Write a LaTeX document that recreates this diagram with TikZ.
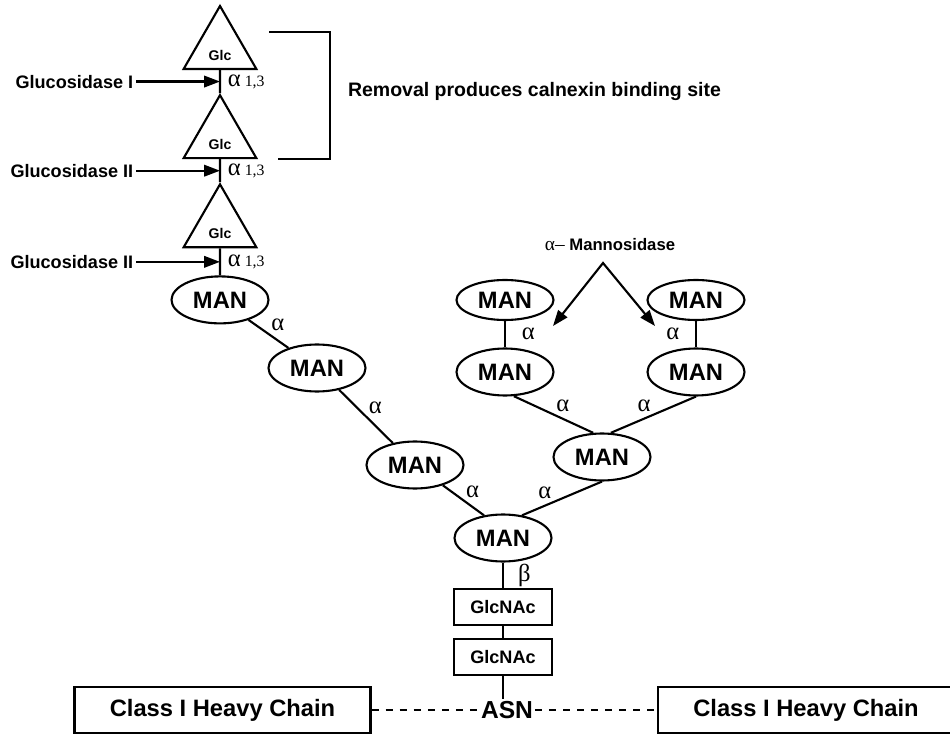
\documentclass[tikz,border=0pt]{standalone}
\usepackage{fontspec}
\newfontfamily\hv{Liberation Sans}
\newfontfamily\tm{Liberation Serif}
\usetikzlibrary{arrows.meta, positioning, shapes, calc}

\tikzset{
    glc/.style={regular polygon, regular polygon sides=3, draw, minimum size=1.68cm, inner sep=0pt, text height=0.5cm, font=\hv\bfseries\fontsize{8}{9}\selectfont},
    man/.style={ellipse, draw, minimum width=1.94cm, minimum height=0.94cm, inner sep=0pt, font=\hv\bfseries\fontsize{13.5}{15}\selectfont},
    mantop/.style={man, minimum height=0.8cm},
    nac/.style={rectangle, draw, minimum width=1.96cm, minimum height=0.72cm, inner sep=0pt, font=\hv\bfseries\fontsize{10.3}{12}\selectfont},
    hchain/.style={rectangle, draw, minimum width=5.92cm, minimum height=0.92cm, inner sep=0pt, font=\hv\bfseries\fontsize{13.5}{16}\selectfont},
    enz/.style={inner sep=1pt, font=\hv\bfseries\fontsize{10.3}{12}\selectfont},
    lnk/.style={inner sep=1pt, font=\tm\fontsize{14}{16}\selectfont},
    cut/.style={-{Triangle[length=9pt, width=6.5pt]}, line width=1.2pt},
}

\begin{document}
\begin{tikzpicture}[x=0.02cm, y=-0.02cm, line width=1.2pt]
    \useasboundingbox (0,0) rectangle (950,736);

    % glucose cap
    \node (t1) [glc] at (220,48) {Glc};
    \node (t2) [glc, below=0.46cm of t1] {Glc};
    \node (t3) [glc, below=0.46cm of t2] {Glc};
    \node (m1) [man, below=0.54cm of t3] {MAN};

    \draw (t1) -- (t2);
    \draw (t2) -- (t3);
    \draw (t3) -- (m1);

    \coordinate (b1) at ($(t1.south)!0.5!(t2.north)$);
    \coordinate (b2) at ($(t2.south)!0.5!(t3.north)$);
    \coordinate (b3) at ($(t3.south)!0.5!(m1.north)$);

    \node (g1) [enz, left=1.68cm of b1] {Glucosidase I};
    \node (g2) [enz, left=1.68cm of b2] {Glucosidase II};
    \node (g3) [enz, left=1.68cm of b3] {Glucosidase II};
    \draw[cut] (g1) -- (b1);
    \draw[cut] (g2) -- (b2);
    \draw[cut] (g3) -- (b3);

    \node (a1) [lnk, right=0.1cm of b1] {α\,{\fontsize{9}{10}\selectfont 1,3}};
    \node (a2) [lnk, right=0.1cm of b2] {α\,{\fontsize{9}{10}\selectfont 1,3}};
    \node (a3) [lnk, right=0.1cm of b3] {α\,{\fontsize{9}{10}\selectfont 1,3}};

    % bracket
    \draw (269,32) -- (330,32) -- (330,159) -- (278,159);
    \node (rem) [anchor=west, inner sep=0pt, font=\hv\bfseries\fontsize{11.1}{13}\selectfont] at (347,92) {Removal produces calnexin binding site};

    % mannose tree
    \node (m2) [man] at (317,368) {MAN};
    \node (m3) [man] at (415,465) {MAN};
    \node (root) [man] at (503,538) {MAN};
    \node (mr) [man] at (602,457) {MAN};
    \node (mlb) [man] at (505,372) {MAN};
    \node (mrb) [man] at (696,372) {MAN};
    \node (mlt) [mantop] at (505,300) {MAN};
    \node (mrt) [mantop] at (696,300) {MAN};

    \draw (m1) -- node[lnk, above right] {α} (m2);
    \draw (m2) -- node[lnk, above right] {α} (m3);
    \draw (m3) -- node[lnk, above right] {α} (root.130);
    \draw (root.50) -- node[lnk, above left, pos=0.4] {α} (mr.south);
    \draw (mr.110) -- node[lnk, above right] {α} (mlb.-70);
    \draw (mr.70) -- node[lnk, above left] {α} (mrb.south);
    \draw (mlt) -- node[lnk, right=8pt] {α} (mlb);
    \draw (mrt) -- node[lnk, left=8pt] {α} (mrb);

    \node (mann) [enz, font=\hv\bfseries\fontsize{9.5}{11}\selectfont] at (610,245) {{\tm\mdseries\fontsize{11}{12}\selectfont α–} Mannosidase};
    \coordinate (c0) at (603,263);
    \coordinate (c1) at (553,326);
    \coordinate (c2) at (655,326);
    \draw[{Triangle[length=9pt, width=6.5pt]}-{Triangle[length=9pt, width=6.5pt]}, line join=miter] (c1) -- (c0) -- (c2);

    % core and protein
    \node (n1) [nac, below=0.51cm of root] {GlcNAc};
    \node (n2) [nac, below=0.24cm of n1] {GlcNAc};
    \draw (root) -- node[lnk, right=7pt] {β} (n1);
    \draw (n1) -- (n2);

    \node (asn) [inner sep=0.5pt, font=\hv\bfseries\fontsize{14}{16}\selectfont] at (507,710) {ASN};
    \draw (n2) -- (n2 |- asn.north);

    \node (lbox) [hchain] at (222.5,710) {Class I Heavy Chain};
    \node (rbox) [hchain] at (806,710) {Class I Heavy Chain};
    \draw[dash pattern=on 4pt off 4pt, line width=0.9pt] (lbox) -- (asn);
    \draw[dash pattern=on 4pt off 4pt, line width=0.9pt] (asn) -- (rbox);
\end{tikzpicture}
\end{document}
